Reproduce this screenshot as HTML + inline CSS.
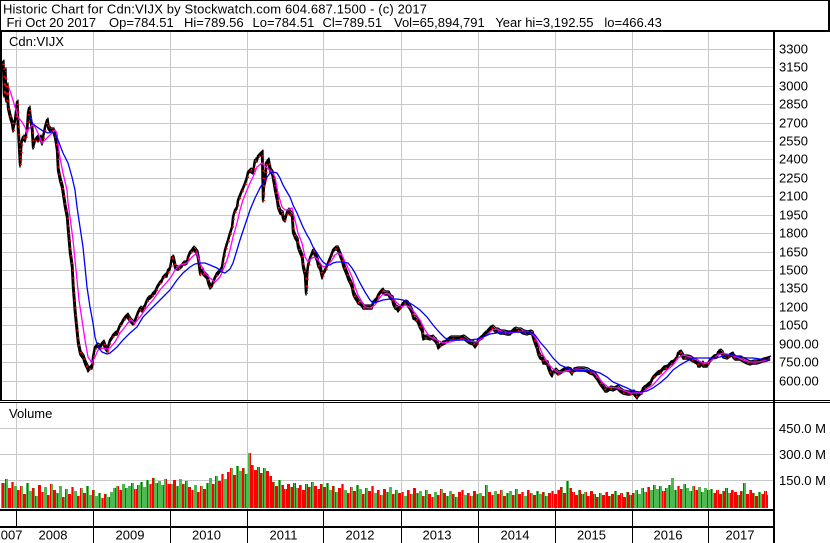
<!DOCTYPE html>
<html><head><meta charset="utf-8"><style>
html,body{margin:0;padding:0;background:#fff}
svg{display:block}
text{font-family:"Liberation Sans",Arial,sans-serif;font-size:13px;fill:#000}
</style></head><body>
<svg width="830" height="543" viewBox="0 0 830 543" xmlns="http://www.w3.org/2000/svg">
<defs>
<pattern id="pG" patternUnits="userSpaceOnUse" x="0" y="0" width="16" height="543">
<rect width="16" height="543" fill="#50b850"/><rect x="3" width="1" height="543" fill="#f00"/><rect x="6" width="1" height="543" fill="#f00"/><rect x="8" width="2" height="543" fill="#f00"/><rect x="13" width="1" height="543" fill="#f00"/></pattern>
<pattern id="pR" patternUnits="userSpaceOnUse" x="0" y="0" width="16" height="543">
<rect width="16" height="543" fill="#f00"/><rect x="2" width="1" height="543" fill="#50b850"/><rect x="6" width="1" height="543" fill="#50b850"/><rect x="8" width="2" height="543" fill="#50b850"/><rect x="13" width="1" height="543" fill="#50b850"/></pattern>
<pattern id="pM" patternUnits="userSpaceOnUse" x="0" y="0" width="15" height="543">
<rect width="15" height="543" fill="#50b850"/><rect x="2" width="2" height="543" fill="#f00"/><rect x="5" width="1" height="543" fill="#f00"/><rect x="8" width="3" height="543" fill="#f00"/><rect x="12" width="1" height="543" fill="#f00"/></pattern>
<polyline id="pr" points="2,64 3,62 4,95 5,70 6,100 7,85 8,108 10,117 12,123 13,130 15,120 17,102 18,128 20,165 21,145 22,140 23,137 25,140 27,130 28,113 29,108 30,117 32,130 33,147 35,140 37,137 38,140 40,137 42,143 43,137 45,127 47,120 48,127 50,130 53,130 55,137 57,150 58,170 60,180 62,187 65,207 67,217 68,230 70,253 72,267 73,287 75,313 77,333 78,343 80,353 83,357 85,363 87,367 88,370 90,367 92,367 93,357 95,347 97,345 100,347 102,343 103,342 105,347 107,350 108,347 110,340 112,337 113,335 115,333 117,333 118,330 120,325 122,322 123,320 125,317 127,315 128,317 130,320 132,322 133,323 135,320 137,315 138,312 140,308 142,310 143,308 145,305 147,300 148,298 150,297 152,295 153,293 155,292 157,287 158,285 160,282 162,280 163,277 165,275 167,275 168,270 170,268 172,257 173,258 175,267 177,268 178,268 180,267 182,265 183,263 185,263 187,262 188,257 190,252 192,250 193,248 195,250 197,253 198,258 200,273 202,270 203,273 205,275 207,277 208,282 210,287 212,285 213,282 215,277 217,273 218,273 220,270 222,267 223,260 225,250 227,243 228,240 230,233 232,227 233,217 235,210 237,207 238,200 240,195 242,190 243,188 245,183 247,177 248,172 250,170 253,172 255,160 257,160 258,156 260,154 262,152 263,200 264,175 265,183 266,163 268,160 270,170 272,173 273,178 275,190 277,200 278,207 280,212 282,213 283,218 285,220 287,212 288,210 290,213 292,215 293,232 295,237 297,240 298,247 300,252 302,257 303,267 305,275 306,293 307,273 308,265 310,258 312,253 313,250 315,255 317,260 318,265 320,268 322,277 323,273 325,270 327,265 328,263 330,258 332,253 333,250 335,248 337,248 338,250 340,255 342,260 343,265 345,270 347,275 348,278 350,282 352,287 353,293 355,297 357,300 358,302 360,303 362,305 363,307 367,307 370,307 372,307 373,302 377,298 378,295 380,292 382,290 383,292 385,293 388,293 390,297 392,298 393,303 395,307 397,308 398,310 400,307 402,305 403,303 405,302 407,303 408,305 410,308 412,312 413,317 415,318 417,320 418,322 420,327 422,330 423,338 425,337 427,337 430,338 432,337 433,338 435,340 437,343 438,347 440,345 442,343 443,343 445,342 447,340 450,338 453,338 457,338 460,338 463,337 467,340 470,342 473,343 475,346 477,343 478,340 480,338 482,337 483,335 485,333 487,333 488,330 490,328 492,327 493,328 495,330 497,330 500,332 503,332 507,333 510,333 513,330 515,329 517,330 520,330 523,332 527,333 530,332 532,333 533,337 535,343 537,348 538,353 540,357 542,358 543,362 545,362 547,363 548,367 550,372 552,375 553,372 555,370 557,372 558,373 560,372 563,370 567,369 570,370 572,373 573,370 577,369 580,369 583,369 587,370 590,372 593,373 597,378 600,383 603,387 605,390 607,390 610,388 613,389 617,387 620,390 623,392 627,393 630,393 633,392 637,397 638,395 640,393 642,392 643,388 645,387 647,385 650,383 653,377 657,373 660,372 663,368 667,367 670,363 673,362 677,357 678,353 680,352 682,355 683,357 687,357 690,358 693,360 697,362 698,365 700,365 702,363 703,365 707,365 708,363 710,360 712,358 713,357 717,356 718,352 720,351 722,353 723,356 727,357 730,355 732,354 733,356 735,358 740,358 743,360 747,362 750,363 753,362 757,362 760,361 763,360 767,359 770,358"/>
</defs>

<!-- header -->
<rect x="0" y="0" width="830" height="1" fill="#000"/>
<rect x="0" y="0" width="1" height="31" fill="#000"/>
<rect x="828" y="0" width="2" height="32" fill="#000"/>
<rect x="0" y="30" width="830" height="2" fill="#000"/>
<text x="3" y="13.5" textLength="424" lengthAdjust="spacing">Historic Chart for Cdn:VIJX by Stockwatch.com 604.687.1500 - (c) 2017</text>
<text x="6.5" y="27">Fri Oct 20 2017</text>
<text x="109" y="27">Op=784.51</text>
<text x="184" y="27">Hi=789.56</text>
<text x="252.5" y="27">Lo=784.51</text>
<text x="322.5" y="27">Cl=789.51</text>
<text x="394" y="27" style="white-space:pre" xml:space="preserve">Vol=65,894,791   Year hi=3,192.55   lo=466.43</text>

<!-- grid -->
<path shape-rendering="crispEdges" stroke="#c8c8c8" stroke-width="1" fill="none" d="M2 49.5H773M2 67.5H773M2 86.5H773M2 104.5H773M2 123.5H773M2 141.5H773M2 159.5H773M2 178.5H773M2 196.5H773M2 215.5H773M2 233.5H773M2 252.5H773M2 270.5H773M2 288.5H773M2 307.5H773M2 325.5H773M2 344.5H773M2 362.5H773M2 381.5H773
M16.5 32V400M93.5 32V400M170.5 32V400M247.5 32V400M323.5 32V400M401.5 32V400M478.5 32V400M555.5 32V400M632.5 32V400M708.5 32V400
M16.5 403V509M93.5 403V509M170.5 403V509M247.5 403V509M323.5 403V509M401.5 403V509M478.5 403V509M555.5 403V509M632.5 403V509M708.5 403V509
M0 428.5H773M0 454.5H773M0 480.5H773"/>

<text x="9" y="46">Cdn:VIJX</text>
<text x="9" y="418">Volume</text>

<!-- price series -->
<use href="#pr" fill="none" stroke="#000" stroke-width="1.4" stroke-linejoin="round" transform="translate(0,2)"/>
<use href="#pr" fill="none" stroke="#000" stroke-width="1.2" stroke-linejoin="round" transform="translate(1,-2)"/>
<use href="#pr" fill="none" stroke="#000" stroke-width="2.4" stroke-linejoin="round"/>
<use href="#pr" fill="none" stroke="#f00" stroke-width="2" stroke-dasharray="1.5 6" transform="translate(1,1)"/>

<polyline fill="none" stroke="#ff00ff" stroke-width="1.3" points="9,88 12,97 15,107 17,113 18,117 22,122 25,127 27,133 28,130 32,125 35,127 38,133 42,143 45,140 48,137 52,133 55,130 57,133 58,143 60,158 63,173 67,190 68,203 70,217 73,240 75,260 77,280 79,300 82,320 85,340 88,357 92,363 95,357 98,350 103,348 107,349 110,348 115,342 120,333 125,327 130,320 135,323 140,317 147,307 153,300 160,290 167,282 171,277 175,270 180,265 187,263 192,257 197,253 200,263 205,273 210,278 215,282 220,277 223,270 227,260 230,250 233,237 237,223 240,210 243,200 247,190 250,183 253,177 257,167 262,163 267,168 272,172 275,177 278,193 282,207 285,210 288,210 292,208 295,220 298,233 302,243 305,257 308,262 312,258 315,257 318,260 323,267 328,265 332,260 335,255 338,253 342,255 345,262 348,268 352,277 355,287 358,295 362,302 365,307 370,308 375,305 378,300 382,295 387,293 392,297 397,303 402,307 405,305 410,307 415,313 420,320 425,330 430,337 437,340 443,343 450,342 457,340 463,339 470,341 477,342 482,338 487,335 492,330 497,329 503,332 510,333 517,332 523,331 530,332 535,337 538,343 542,353 547,362 552,368 557,372 563,372 570,370 577,369 587,370 593,372 598,377 603,383 608,387 617,388 623,390 630,393 637,393 642,393 647,389 653,385 660,377 667,370 673,365 678,358 683,355 690,357 697,360 703,363 708,363 713,359 718,355 723,353 730,355 737,357 743,360 750,362 757,362 763,361 770,359"/>
<polyline fill="none" stroke="#0000ff" stroke-width="1.3" points="29,115 33,124 37,127 43,131 48,133 52,132 55,134 58,140 63,153 68,163 72,177 75,190 77,207 80,227 83,247 85,267 87,287 90,307 93,323 95,337 98,347 102,352 107,354 110,353 117,347 123,340 130,333 137,327 143,317 150,310 157,303 163,297 170,290 177,280 183,273 190,267 195,264 200,263 205,263 210,265 217,268 222,272 225,273 230,269 233,263 237,250 240,240 245,225 250,210 255,198 260,188 265,180 270,173 273,172 277,173 280,178 283,185 287,192 290,197 293,205 297,213 300,220 303,227 307,235 310,240 313,247 317,253 320,258 323,262 327,265 330,265 333,263 337,262 343,262 348,263 352,268 355,273 360,283 365,292 370,300 373,303 377,302 383,300 390,299 397,299 403,300 408,302 413,305 420,310 427,317 433,325 440,333 445,338 450,340 470,340 477,339 483,337 490,334 497,333 503,332 530,332 535,335 540,342 547,350 553,358 560,365 567,368 573,370 593,371 600,373 607,377 613,382 620,385 627,388 633,391 640,392 647,391 653,388 660,383 667,377 673,370 680,365 687,361 693,358 713,358 720,357 727,355 733,355 740,357 747,358 753,358 760,359 770,360"/>

<!-- volume -->
<g shape-rendering="crispEdges">
<path fill="url(#pM)" d="M1 508V483h4V479h3V488h3V482h3V486h3V490h3V486h3V494h3V483h3V491h3V488h3V496h3V485h3V492h3V487h3V495h3V484h3V490h3V493h3V486h3V497h3V489h3V494h3V487h3V491h3V496h3V488h3V493h3V486h3V495h3V490h3V508Z"/>
<path fill="url(#pG)" d="M95 508V496h3V493h3V498h3V494h3V497h3V492h3V488h3V486h3V490h3V484h3V488h3V486h3V483h3V489h3V485h3V482h3V487h3V480h3V484h3V478h3V483h3V481h3V485h3V479h3V484h3V508Z"/>
<path fill="url(#pM)" d="M170 508V484h3V480h3V486h3V479h3V484h3V481h3V487h3V490h3V485h3V492h3V486h3V489h3V483h3V478h3V484h3V476h3V481h3V474h3V479h3V472h3V468h3V475h3V466h3V471h3V468h3V474h3V508Z"/>
<path fill="url(#pR)" d="M248 508V453h3V465h3V470h3V467h3V473h3V468h3V471h3V476h3V482h3V486h3V480h3V485h3V489h3V484h3V487h3V483h3V488h3V485h3V490h3V484h3V487h3V482h3V486h3V489h3V484h3V508Z"/>
<path fill="url(#pM)" d="M323 508V487h3V483h3V490h3V486h3V492h3V488h3V484h3V490h3V493h3V487h3V491h3V485h3V489h3V494h3V488h3V491h3V486h3V493h3V490h3V495h3V489h3V492h3V487h3V494h3V490h3V493h3V492h3V496h3V490h3V494h3V488h3V493h3V491h3V496h3V490h3V494h3V497h3V492h3V495h3V489h3V493h3V496h3V491h3V494h3V497h3V492h3V490h3V495h3V493h3V496h3V491h3V494h3V493h3V496h3V485h3V492h3V495h3V491h3V494h3V490h3V496h3V493h3V491h3V495h3V489h3V494h3V492h3V496h3V490h3V493h3V495h3V491h3V494h3V492h3V496h3V493h3V491h3V508Z"/>
<path fill="url(#pR)" d="M554 508V494h3V490h3V487h3V493h3V481h3V488h3V492h3V495h3V490h3V494h3V492h3V496h3V491h3V494h3V497h3V493h3V495h3V492h3V496h3V494h3V491h3V495h3V493h3V497h3V492h3V495h3V508Z"/>
<path fill="url(#pG)" d="M632 508V493h3V490h3V494h3V488h3V492h3V487h3V490h3V485h3V489h3V486h3V491h3V488h3V485h3V478h3V490h3V486h3V489h3V484h3V488h3V491h3V486h3V490h3V487h3V492h3V488h3V490h3V508Z"/>
<path fill="url(#pR)" d="M710 508V489h3V493h3V490h3V494h3V491h3V488h3V493h3V490h3V492h3V495h3V491h3V483h3V494h3V490h3V493h3V496h3V492h3V494h3V491h3V495h1V508Z"/>
</g>

<!-- frame lines -->
<g shape-rendering="crispEdges" fill="#000">
<rect x="0" y="32" width="2" height="368"/>
<rect x="0" y="400" width="830" height="1"/>
<rect x="0" y="402" width="830" height="1"/>
<rect x="773" y="32" width="2" height="511"/>
<rect x="0" y="509" width="775" height="2"/>
<rect x="0" y="526" width="775" height="2"/>
<rect x="16" y="511" width="1" height="15"/>
<rect x="93" y="511" width="1" height="32"/>
<rect x="170" y="511" width="1" height="32"/>
<rect x="247" y="511" width="1" height="32"/>
<rect x="323" y="511" width="1" height="32"/>
<rect x="401" y="511" width="1" height="32"/>
<rect x="478" y="511" width="1" height="32"/>
<rect x="555" y="511" width="1" height="32"/>
<rect x="632" y="511" width="1" height="32"/>
<rect x="708" y="511" width="1" height="32"/>
</g>

<!-- price axis labels -->
<g>
<text x="779" y="53.5">3300</text>
<text x="779" y="71.5">3150</text>
<text x="779" y="90.5">3000</text>
<text x="779" y="108.5">2850</text>
<text x="779" y="127.5">2700</text>
<text x="779" y="145.5">2550</text>
<text x="779" y="163.5">2400</text>
<text x="779" y="182.5">2250</text>
<text x="779" y="200.5">2100</text>
<text x="779" y="219.5">1950</text>
<text x="779" y="237.5">1800</text>
<text x="779" y="256.5">1650</text>
<text x="779" y="274.5">1500</text>
<text x="779" y="292.5">1350</text>
<text x="779" y="311.5">1200</text>
<text x="779" y="329.5">1050</text>
<text x="779" y="348.5">900.00</text>
<text x="779" y="366.5">750.00</text>
<text x="779" y="385.5">600.00</text>
<text x="779" y="433">450.0 M</text>
<text x="779" y="459">300.0 M</text>
<text x="779" y="485">150.0 M</text>
</g>

<!-- year labels -->
<g text-anchor="middle">
<text x="22.5" y="539.5" text-anchor="end">2007</text>
<text x="53" y="539.5">2008</text>
<text x="130" y="539.5">2009</text>
<text x="206.5" y="539.5">2010</text>
<text x="283.5" y="539.5">2011</text>
<text x="360" y="539.5">2012</text>
<text x="437" y="539.5">2013</text>
<text x="515" y="539.5">2014</text>
<text x="591.5" y="539.5">2015</text>
<text x="668" y="539.5">2016</text>
<text x="740" y="539.5">2017</text>
</g>
</svg>
</body></html>
